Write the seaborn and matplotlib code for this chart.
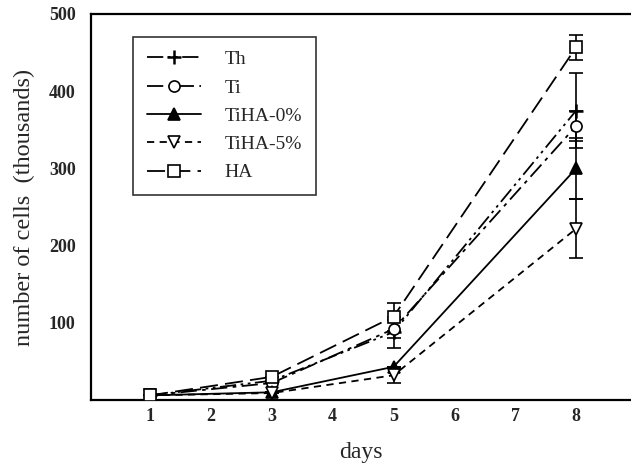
import numpy as np
import pandas as pd
from matplotlib import pyplot as plt
import seaborn as sns

# data
days = [1, 3, 5, 8]
series = ["Th", "Ti", "TiHA-0%", "TiHA-5%", "HA"]
th = [6, 25, 88, 375]
ti = [6, 22, 92, 355]
tiha0 = [6, 10, 43, 300]
tiha5 = [6, 9, 32, 222]
ha = [6, 30, 108, 457]
th_err = [0, 0, 20, 48]
ti_err = [0, 0, 12, 20]
tiha0_err = [0, 0, 0, 40]
tiha5_err = [0, 0, 10, 38]
ha_err = [0, 0, 18, 16]

values = [th, ti, tiha0, tiha5, ha]
errors = [th_err, ti_err, tiha0_err, tiha5_err, ha_err]

styles = {
    "Th": dict(linestyle=(0, (9, 2.5, 1.5, 2.5, 1.5, 2.5)), marker="+", mfc="k", ms=10, mew=1.8),
    "Ti": dict(linestyle=(0, (9, 3, 2, 3)), marker="o", mfc="white", ms=8, mew=1.2),
    "TiHA-0%": dict(linestyle="-", marker="^", mfc="k", ms=9, mew=1.2),
    "TiHA-5%": dict(linestyle=(0, (4, 3)), marker="v", mfc="white", ms=9, mew=1.2),
    "HA": dict(linestyle=(0, (10, 4)), marker="s", mfc="white", ms=8, mew=1.2),
}

df = pd.DataFrame({
    "days": np.tile(days, len(series)),
    "cells": np.concatenate(values),
    "err": np.concatenate(errors),
    "group": np.repeat(series, len(days)),
})

sns.set_style("white")
plt.rcParams["font.family"] = ["Liberation Serif", "DejaVu Serif"]

fig = plt.figure(figsize=(6.31, 4.63), dpi=100)
ax = fig.add_axes([91 / 631, 63 / 463, 540 / 631, 386 / 463])

for name in series:
    sub = df[df["group"] == name]
    st = styles[name]
    ax.errorbar(sub["days"], sub["cells"], yerr=sub["err"], fmt="none",
                ecolor="k", elinewidth=1.2, capsize=5, capthick=1.2, zorder=2)
    sns.lineplot(data=sub, x="days", y="cells", ax=ax, color="k", lw=1.3,
                 linestyle=st["linestyle"], marker=st["marker"],
                 markerfacecolor=st["mfc"], markeredgecolor="k",
                 markersize=st["ms"], markeredgewidth=st["mew"],
                 label=name, zorder=3)

ax.set_xlim(0.03, 8.9)
ax.set_ylim(0, 500)
ax.set_xticks(range(1, 9))
ax.set_yticks([100, 200, 300, 400, 500])
ax.tick_params(direction="in", length=7, width=1.3, labelsize=13)
ax.tick_params(axis="x", pad=6)
ax.tick_params(axis="y", pad=11)
for lab in ax.get_xticklabels() + ax.get_yticklabels():
    lab.set_fontweight("bold")
for side in ["left", "bottom", "top"]:
    ax.spines[side].set_linewidth(1.6)
    ax.spines[side].set_color("k")
ax.spines["right"].set_visible(False)

ax.set_xlabel("days", fontsize=17, labelpad=12)
ax.set_ylabel("number of cells  (thousands)", fontsize=17.5, labelpad=10)

leg = ax.legend(loc="upper left", bbox_to_anchor=(133 / 631, 426 / 463),
                bbox_transform=fig.transFigure, frameon=True, fancybox=False,
                fontsize=14, handlelength=2.8, labelspacing=0.55,
                borderpad=0.7, handletextpad=1.2, borderaxespad=0)
leg.get_frame().set_edgecolor("k")
leg.get_frame().set_linewidth(1.2)

fig.savefig("out.png", dpi=100)
